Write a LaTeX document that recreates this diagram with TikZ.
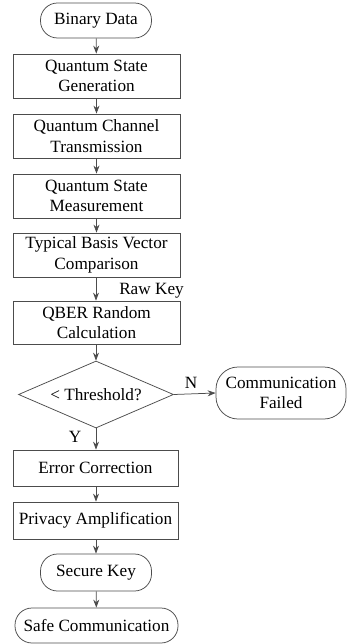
\documentclass[tikz,border=0pt]{standalone}
\usepackage{fontspec}
\setmainfont{Liberation Serif}
\usetikzlibrary{arrows.meta,shapes.geometric}
\begin{document}
\begin{tikzpicture}[x=1pt,y=-1pt,
  every node/.style={font=\fontsize{17.2}{20.5}\selectfont, text=black},
  box/.style={draw=black!70, line width=0.75pt, rectangle, minimum width=167pt, inner sep=0pt, align=center},
  term/.style={draw=black!70, line width=0.75pt, rectangle, rounded corners=17pt, inner sep=0pt, align=center},
  dec/.style={draw=black!70, line width=0.75pt, diamond, aspect=2.3, minimum width=155pt, minimum height=67pt, inner sep=0pt},
  lbl/.style={inner sep=0pt},
  arr/.style={draw=black!70, line width=0.75pt, -{Stealth[length=8pt,width=6pt]}}]
\useasboundingbox (0,0) rectangle (346,644);
\node[term, minimum width=111pt, minimum height=35pt] (bd) at (96,20.5) {Binary Data};
\node[box, minimum height=44pt] (b1) at (96.5,76) {Quantum State\\Generation};
\node[box, minimum height=44pt] (b2) at (96.5,136) {Quantum Channel\\Transmission};
\node[box, minimum height=44pt] (b3) at (96.5,196) {Quantum State\\Measurement};
\node[box, minimum height=44pt] (b4) at (96.5,255) {Typical Basis Vector\\Comparison};
\node[box, minimum height=43pt] (b5) at (96.5,322.5) {QBER Random\\Calculation};
\node[dec] (d) at (96,394.5) {};
\node[lbl] (dt) at (96,395) {< Threshold?};
\node[term, rounded corners=22pt, minimum width=130pt, minimum height=52pt] (cf) at (281,393) {Communication\\Failed};
\node[box, minimum width=165pt, minimum height=36pt] (ec) at (95.5,468) {Error Correction};
\node[box, minimum width=165pt, minimum height=37pt] (pa) at (95.5,520.5) {Privacy Amplification};
\node[term, minimum width=111pt, minimum height=37pt] (sk) at (96,572.5) {Secure Key};
\node[term, minimum width=163pt, minimum height=35pt] (sc) at (96.5,625.5) {Safe Communication};
\node[lbl] (rk) at (151.5,291) {Raw Key};
\node[lbl] (yl) at (75,437) {Y};
\node[lbl] (nl) at (191,383) {N};
\draw[arr] (bd) -- (b1);
\draw[arr] (b1) -- (b2);
\draw[arr] (b2) -- (b3);
\draw[arr] (b3) -- (b4);
\draw[arr] (b4.south -| 96,0) -- (b5.north -| 96,0);
\draw[arr] (b5.south -| 96,0) -- (d.north);
\draw[arr] (d.east) -- (cf.west);
\draw[arr] (d.south) -- (ec.north -| d.south);
\draw[arr] (ec.south -| 96,0) -- (pa.north -| 96,0);
\draw[arr] (pa.south -| 96,0) -- (sk.north);
\draw[arr] (sk) -- (sc);
\end{tikzpicture}
\end{document}
